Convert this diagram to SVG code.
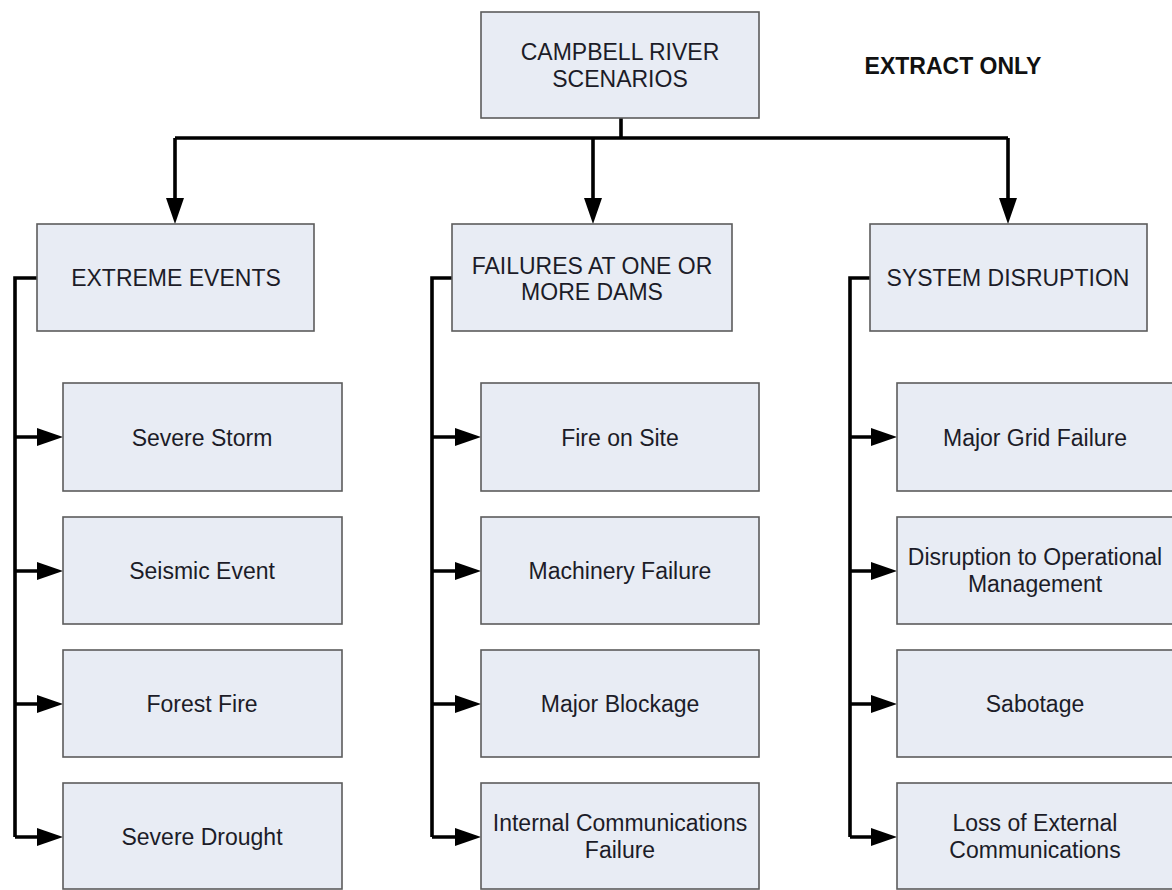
<svg xmlns="http://www.w3.org/2000/svg" width="1172" height="890" viewBox="0 0 1172 890">
  <style>
    .box { fill: #e8ecf4; stroke: #5c5c5c; stroke-width: 1.6; }
    .lbl { font-family: "Liberation Sans", Arial, sans-serif; font-size: 23px; fill: #1c1c28; text-anchor: middle; }
    .note { font-family: "Liberation Sans", Arial, sans-serif; font-size: 23px; font-weight: bold; fill: #111; text-anchor: middle; }
    .wire { fill: none; stroke: #000; stroke-width: 3.6; stroke-linejoin: miter; }
    .tip { fill: #000; }
  </style>
  <defs>
    <!-- filled arrowhead, tip at origin pointing +x -->
    <polygon id="head" class="tip" points="0,0 -26,-9 -26,9"/>
  </defs>
  <rect width="1172" height="890" fill="#ffffff"/>

  <!-- connectors -->
  <g id="connectors">
    <path class="wire" d="M621,118 V138 M175,138 H1008 M175,138 V200 M593,138 V200 M1008,138 V200"/>
    <use href="#head" transform="translate(175,224) rotate(90)"/>
    <use href="#head" transform="translate(593,224) rotate(90)"/>
    <use href="#head" transform="translate(1008,224) rotate(90)"/>

    <path class="wire" d="M37,278 H15 V837 M15,437 H40 M15,571 H40 M15,704 H40 M15,837 H40"/>
    <use href="#head" transform="translate(63,437)"/>
    <use href="#head" transform="translate(63,571)"/>
    <use href="#head" transform="translate(63,704)"/>
    <use href="#head" transform="translate(63,837)"/>

    <path class="wire" d="M452,278 H432 V837 M432,437 H458 M432,571 H458 M432,704 H458 M432,837 H458"/>
    <use href="#head" transform="translate(481,437)"/>
    <use href="#head" transform="translate(481,571)"/>
    <use href="#head" transform="translate(481,704)"/>
    <use href="#head" transform="translate(481,837)"/>

    <path class="wire" d="M870,278 H850 V837 M850,437 H874 M850,571 H874 M850,704 H874 M850,837 H874"/>
    <use href="#head" transform="translate(897,437)"/>
    <use href="#head" transform="translate(897,571)"/>
    <use href="#head" transform="translate(897,704)"/>
    <use href="#head" transform="translate(897,837)"/>
  </g>

  <!-- root -->
  <g id="root">
    <rect class="box" x="481" y="12" width="278" height="106"/>
    <text class="lbl" x="620" y="60">CAMPBELL RIVER</text>
    <text class="lbl" x="620" y="87">SCENARIOS</text>
  </g>

  <text class="note" x="953" y="74">EXTRACT ONLY</text>

  <!-- categories -->
  <g id="extreme-events">
    <rect class="box" x="37" y="224" width="277" height="107"/>
    <text class="lbl" x="176" y="286">EXTREME EVENTS</text>
  </g>
  <g id="dam-failures">
    <rect class="box" x="452" y="224" width="280" height="107"/>
    <text class="lbl" x="592" y="274">FAILURES AT ONE OR</text>
    <text class="lbl" x="592" y="300">MORE DAMS</text>
  </g>
  <g id="system-disruption">
    <rect class="box" x="870" y="224" width="277" height="107"/>
    <text class="lbl" x="1008" y="286">SYSTEM DISRUPTION</text>
  </g>

  <!-- extreme events leaves -->
  <g id="severe-storm">
    <rect class="box" x="63" y="383" width="279" height="108"/>
    <text class="lbl" x="202" y="446">Severe Storm</text>
  </g>
  <g id="seismic-event">
    <rect class="box" x="63" y="517" width="279" height="107"/>
    <text class="lbl" x="202" y="579">Seismic Event</text>
  </g>
  <g id="forest-fire">
    <rect class="box" x="63" y="650" width="279" height="107"/>
    <text class="lbl" x="202" y="712">Forest Fire</text>
  </g>
  <g id="severe-drought">
    <rect class="box" x="63" y="783" width="279" height="106"/>
    <text class="lbl" x="202" y="845">Severe Drought</text>
  </g>

  <!-- dam failure leaves -->
  <g id="fire-on-site">
    <rect class="box" x="481" y="383" width="278" height="108"/>
    <text class="lbl" x="620" y="446">Fire on Site</text>
  </g>
  <g id="machinery-failure">
    <rect class="box" x="481" y="517" width="278" height="107"/>
    <text class="lbl" x="620" y="579">Machinery Failure</text>
  </g>
  <g id="major-blockage">
    <rect class="box" x="481" y="650" width="278" height="107"/>
    <text class="lbl" x="620" y="712">Major Blockage</text>
  </g>
  <g id="internal-comms">
    <rect class="box" x="481" y="783" width="278" height="106"/>
    <text class="lbl" x="620" y="831">Internal Communications</text>
    <text class="lbl" x="620" y="858">Failure</text>
  </g>

  <!-- system disruption leaves -->
  <g id="grid-failure">
    <rect class="box" x="897" y="383" width="279" height="108"/>
    <text class="lbl" x="1035" y="446">Major Grid Failure</text>
  </g>
  <g id="operational-management">
    <rect class="box" x="897" y="517" width="279" height="107"/>
    <text class="lbl" x="1035" y="565">Disruption to Operational</text>
    <text class="lbl" x="1035" y="592">Management</text>
  </g>
  <g id="sabotage">
    <rect class="box" x="897" y="650" width="279" height="107"/>
    <text class="lbl" x="1035" y="712">Sabotage</text>
  </g>
  <g id="external-comms">
    <rect class="box" x="897" y="783" width="279" height="106"/>
    <text class="lbl" x="1035" y="831">Loss of External</text>
    <text class="lbl" x="1035" y="858">Communications</text>
  </g>
</svg>
